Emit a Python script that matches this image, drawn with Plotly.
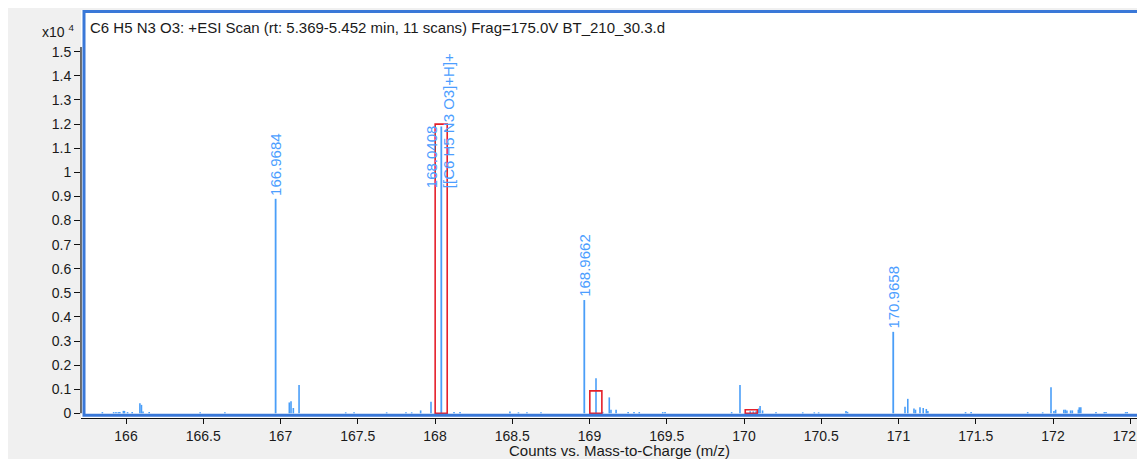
import plotly.graph_objects as go

# ---------------- data (intensity in x10^4 counts) ----------------
major_mz = [166.9684, 168.0408, 168.9662, 170.9658]
major_int = [0.890, 1.190, 0.470, 0.338]
major_compound = ["", "[[C6 H5 N3 O3]+H]+", "", ""]

minor_mz = [165.847, 165.920, 165.935, 165.950, 165.960, 165.983, 165.990, 166.010,
            166.040, 166.090, 166.100, 166.110, 166.150, 166.480, 166.640,
            167.057, 167.068, 167.083, 167.120, 167.422, 167.476, 167.687,
            167.812, 167.849, 167.907, 167.974, 168.123, 168.162,
            168.485, 168.540, 168.595, 168.686,
            169.042, 169.085, 169.128, 169.139, 169.172, 169.250, 169.288, 169.322,
            169.474, 169.489, 169.920, 169.974, 170.040, 170.060, 170.078, 170.095,
            170.104, 170.120, 170.207, 170.380, 170.455, 170.483, 170.660, 170.670,
            171.042, 171.060, 171.100, 171.110, 171.139, 171.160, 171.180, 171.190,
            171.434, 171.470, 171.836, 171.933, 171.987, 172.006, 172.017,
            172.070, 172.080, 172.090, 172.114, 172.125, 172.164, 172.170, 172.180,
            172.278, 172.332, 172.343, 172.470, 172.480]
minor_int = [0.005, 0.005, 0.005, 0.005, 0.005, 0.010, 0.010, 0.005,
             0.005, 0.042, 0.035, 0.007, 0.005, 0.004, 0.004,
             0.045, 0.050, 0.022, 0.117, 0.004, 0.004, 0.004,
             0.004, 0.004, 0.012, 0.048, 0.005, 0.005,
             0.007, 0.004, 0.004, 0.004,
             0.145, 0.006, 0.066, 0.015, 0.015, 0.005, 0.005, 0.005,
             0.005, 0.005, 0.005, 0.117, 0.008, 0.008, 0.008, 0.020,
             0.030, 0.012, 0.004, 0.004, 0.004, 0.004, 0.010, 0.006,
             0.027, 0.060, 0.020, 0.015, 0.025, 0.022, 0.018, 0.010,
             0.005, 0.005, 0.005, 0.004, 0.108, 0.010, 0.015,
             0.015, 0.015, 0.012, 0.012, 0.012, 0.015, 0.025, 0.025,
             0.005, 0.005, 0.005, 0.005, 0.005]

# predicted isotope pattern boxes
iso_mz = [168.040, 169.041, 170.047]
iso_int = [1.200, 0.093, 0.015]
ISO_HALF_WIDTH = 0.039

x_ticks = [166, 166.5, 167, 167.5, 168, 168.5, 169, 169.5, 170, 170.5, 171, 171.5, 172, 172.5]
x_tick_labels = ["166", "166.5", "167", "167.5", "168", "168.5", "169", "169.5",
                 "170", "170.5", "171", "171.5", "172", "172.5"]
y_ticks = [0, 0.1, 0.2, 0.3, 0.4, 0.5, 0.6, 0.7, 0.8, 0.9, 1.0, 1.1, 1.2, 1.3, 1.4, 1.5]
y_tick_labels = ["0", "0.1", "0.2", "0.3", "0.4", "0.5", "0.6", "0.7", "0.8", "0.9",
                 "1", "1.1", "1.2", "1.3", "1.4", "1.5"]

title_text = "C6 H5 N3 O3: +ESI Scan (rt: 5.369-5.452 min, 11 scans) Frag=175.0V BT_210_30.3.d"
x_title = "Counts vs. Mass-to-Charge (m/z)"

# ---------------- styling / layout constants ----------------
OFF = 8                      # page body margin (figure drawn at (8, 8) in the window)
W, H = 1145 - OFF, 459 - OFF
ML, MR, MT, MB = 81 - OFF, 0, 10 - OFF, 41
PW, PH = W - ML - MR, H - MT - MB
STICK = "#4A9EF8"
FRAME = "#3A78D8"
RED = "#E5202A"
FONT = "Liberation Sans, Arial, sans-serif"
MAIN_LABEL_BASE = 0.925  # label base for the annotated base peak

def px_x(p):  # page pixel -> paper coordinate
    return (p - OFF - ML) / PW

def px_y(p):
    return (H - MB - (p - OFF)) / PH

# build stick traces from the data arrays
def sticks(mz, inten):
    xs, ys = [], []
    for m, h in zip(mz, inten):
        xs += [m, m, None]
        ys += [0, h, None]
    return xs, ys

fig = go.Figure()
xs, ys = sticks(minor_mz, minor_int)
fig.add_trace(go.Scatter(x=xs, y=ys, mode="lines", line=dict(color=STICK, width=1.6),
                         hoverinfo="skip", showlegend=False))
xs, ys = sticks(major_mz, major_int)
fig.add_trace(go.Scatter(x=xs, y=ys, mode="lines", line=dict(color=STICK, width=1.8),
                         hoverinfo="skip", showlegend=False))

shapes = []
# isotope boxes
for m, h in zip(iso_mz, iso_int):
    shapes.append(dict(type="rect", xref="x", yref="y", x0=m - ISO_HALF_WIDTH, x1=m + ISO_HALF_WIDTH,
                       y0=0, y1=h, line=dict(color=RED, width=1.6), fillcolor="rgba(0,0,0,0)",
                       layer="above"))
# blue frame
shapes.append(dict(type="rect", xref="paper", yref="paper", x0=px_x(84), x1=1.02,
                   y0=px_y(415.2), y1=px_y(11.5), line=dict(color=FRAME, width=3), layer="above"))
# black y axis line (tick span)
shapes.append(dict(type="line", xref="paper", yref="y", x0=0, x1=0, y0=0, y1=1.52,
                   line=dict(color="#111", width=1.2), layer="above"))

annotations = []
for m, h, comp in zip(major_mz, major_int, major_compound):
    if comp:
        base = MAIN_LABEL_BASE
        annotations.append(dict(x=m, y=base, xref="x", yref="y", text=f"{m:.4f}", showarrow=False,
                                textangle=-90, xanchor="center", yanchor="bottom", xshift=-9,
                                font=dict(family=FONT, size=15, color="#4C9EFF")))
        annotations.append(dict(x=m, y=base, xref="x", yref="y", text=comp, showarrow=False,
                                textangle=-90, xanchor="center", yanchor="bottom", xshift=8,
                                font=dict(family=FONT, size=15, color="#4C9EFF")))
    else:
        annotations.append(dict(x=m, y=h, xref="x", yref="y", text=f"{m:.4f}", showarrow=False,
                                textangle=-90, xanchor="center", yanchor="bottom", yshift=1,
                                font=dict(family=FONT, size=15, color="#4C9EFF")))

annotations.append(dict(x=px_x(88), y=px_y(28), xref="paper", yref="paper", text=title_text,
                        showarrow=False, xanchor="left", yanchor="middle",
                        font=dict(family=FONT, size=15, color="#1a1a1a")))
annotations.append(dict(x=px_x(76), y=px_y(31), xref="paper", yref="paper", text="x10 <sup>4</sup>",
                        showarrow=False, xanchor="right", yanchor="middle",
                        font=dict(family=FONT, size=14, color="#1a1a1a")))
annotations.append(dict(x=px_x(619), y=px_y(450), xref="paper", yref="paper", text=x_title,
                        showarrow=False, xanchor="center", yanchor="middle",
                        font=dict(family=FONT, size=15, color="#1a1a1a")))

fig.update_layout(
    width=W, height=H,
    margin=dict(l=ML, r=MR, t=MT, b=MB, pad=0, autoexpand=False),
    paper_bgcolor="#F0F0F0", plot_bgcolor="white",
    showlegend=False,
    shapes=shapes, annotations=annotations,
    xaxis=dict(range=[165.7087, 172.5954], tickvals=x_ticks, ticktext=x_tick_labels,
               automargin=False, ticklabeloverflow="allow",
               showgrid=False, zeroline=False, showline=True, linecolor="#111", linewidth=1.2,
               ticks="outside", ticklen=5, tickwidth=1.2, tickcolor="#111",
               tickfont=dict(family=FONT, size=14, color="#1a1a1a")),
    yaxis=dict(range=[-0.0195, 1.6734], tickvals=y_ticks, ticktext=y_tick_labels,
               automargin=False,
               showgrid=False, zeroline=False, showline=False,
               ticks="outside", ticklen=6, tickwidth=1.2, tickcolor="#111",
               tickfont=dict(family=FONT, size=14, color="#1a1a1a")),
)

fig.write_html("out.html")
